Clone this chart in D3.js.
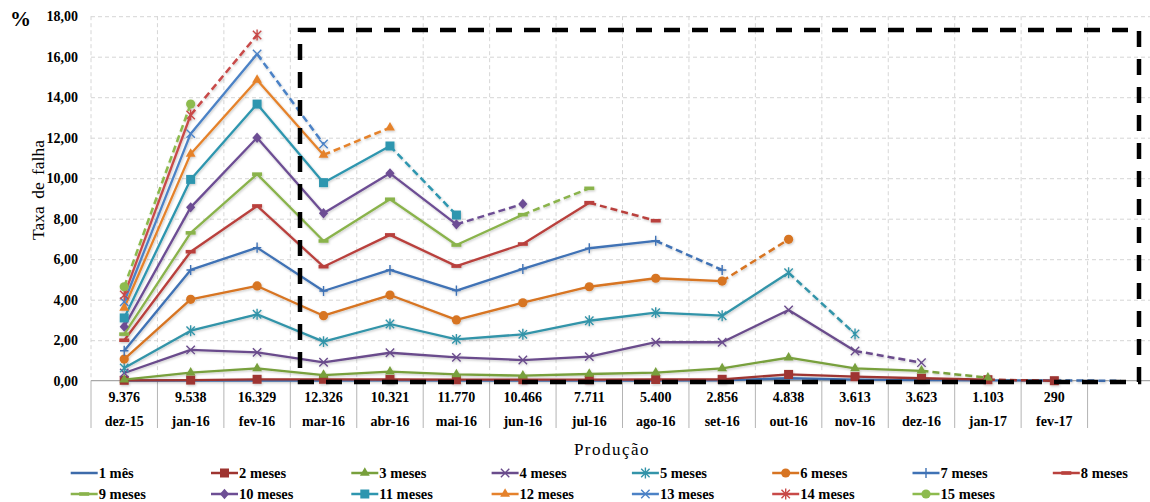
<!DOCTYPE html>
<html>
<head>
<meta charset="utf-8">
<script src="https://cdn.jsdelivr.net/npm/d3@7"></script>
<style>
  html, body { margin: 0; padding: 0; background: #fff; }
  svg { display: block; font-family: "Liberation Serif", "Times New Roman", serif; }
</style>
</head>
<body>
<svg id="chart" width="1150" height="502"></svg>
<script>
// Production months (last column is an empty placeholder)
const months = ["dez-15","jan-16","fev-16","mar-16","abr-16","mai-16","jun-16","jul-16",
                "ago-16","set-16","out-16","nov-16","dez-16","jan-17","fev-17",""];
// Units produced per month
const production = ["9.376","9.538","16.329","12.326","10.321","11.770","10.466","7.711",
                    "5.400","2.856","4.838","3.613","3.623","1.103","290",""];
// Y axis ticks (%)
const yTicks = [0, 2, 4, 6, 8, 10, 12, 14, 16, 18];

// Failure rate (%) by months in service, one array per curve
const m1  = [0.00,0.01,0.01,0.01,0.02,0.01,0.01,0.01,0.01,0.02,0.12,0.05,0.03,0.02,0.01,0.00];
const m2  = [0.02,0.03,0.07,0.07,0.06,0.05,0.05,0.05,0.06,0.07,0.31,0.20,0.12,0.05,0.00];
const m3  = [0.05,0.40,0.61,0.28,0.45,0.31,0.25,0.33,0.40,0.61,1.14,0.61,0.49,0.15];
const m4  = [0.38,1.52,1.40,0.91,1.38,1.15,1.02,1.19,1.90,1.90,3.49,1.47,0.89];
const m5  = [0.63,2.47,3.28,1.93,2.80,2.04,2.29,2.96,3.36,3.21,5.33,2.31];
const m6  = [1.07,4.02,4.68,3.21,4.23,3.00,3.85,4.64,5.06,4.92,6.98];
const m7  = [1.48,5.47,6.57,4.43,5.47,4.45,5.52,6.54,6.91,5.47];
const m8  = [2.00,6.37,8.63,5.63,7.20,5.66,6.75,8.79,7.90];
const m9  = [2.30,7.30,10.20,6.90,8.96,6.70,8.20,9.50];
const m10 = [2.67,8.56,12.00,8.27,10.24,7.72,8.73];
const m11 = [3.10,9.94,13.66,9.78,11.59,8.18];
const m12 = [3.60,11.20,14.85,11.15,12.50];
const m13 = [3.90,12.20,16.13,11.69];
const m14 = [4.23,13.12,17.07];
const m15 = [4.64,13.66];

const seriesNames = ["1 mês","2 meses","3 meses","4 meses","5 meses","6 meses","7 meses","8 meses",
                     "9 meses","10 meses","11 meses","12 meses","13 meses","14 meses","15 meses"];
const seriesValues = [m1,m2,m3,m4,m5,m6,m7,m8,m9,m10,m11,m12,m13,m14,m15];
const seriesColors = ["#3D6BAA","#9E3430","#78A03C","#6A4C8C","#3394A9","#D77422","#3F72B5","#B9413D",
                      "#8AB34C","#6D4E94","#2E96AF","#E5822C","#4C82C6","#C84A48","#8DBB4E"];
const seriesMarkers = ["none","square","triangle","x","asterisk","circle","plus","dash",
                       "dash","diamond","square","triangle","x","asterisk","circle"];

const series = seriesNames.map((name, i) => ({
  name, color: seriesColors[i], marker: seriesMarkers[i],
  values: seriesValues[i].map((v, j) => ({ i: j, v }))
}));

const svg = d3.select("#chart");
const plotLeft = 91, plotRight = 1154, plotTop = 16.2, plotBottom = 380.7;

const x = d3.scaleBand().domain(d3.range(months.length)).range([plotLeft, plotRight]).padding(0);
const bw = x.bandwidth();
const cx = i => x(i) + bw / 2;
const y = d3.scaleLinear().domain([0, 18]).range([plotBottom, plotTop]);

// Horizontal gridlines
svg.append("g")
  .attr("transform", `translate(${plotLeft},0)`)
  .call(d3.axisLeft(y).tickValues(yTicks.filter(t => t > 0)).tickSize(-(plotRight - plotLeft)).tickFormat(""))
  .call(g => g.select(".domain").remove())
  .call(g => g.selectAll("line").attr("stroke", "#d6d6d6").attr("stroke-dasharray", "4 3"));

// Vertical gridlines at category boundaries
svg.append("g").selectAll("line")
  .data(d3.range(months.length + 1))
  .join("line")
  .attr("x1", d => plotLeft + d * bw).attr("x2", d => plotLeft + d * bw)
  .attr("y1", plotTop).attr("y2", plotBottom)
  .attr("stroke", "#d6d6d6").attr("stroke-dasharray", "4 3");

// Y axis labels
svg.append("g")
  .attr("transform", `translate(${plotLeft},0)`)
  .call(d3.axisLeft(y).tickValues(yTicks).tickSize(0).tickPadding(13)
        .tickFormat(v => v.toFixed(2).replace(".", ",")))
  .call(g => g.select(".domain").remove())
  .call(g => g.selectAll("text")
    .attr("font-family", "Liberation Serif, serif")
    .attr("font-size", 14).attr("font-weight", "bold").attr("fill", "#000"));

// Category axis drawn as a data table
const table = svg.append("g");
table.append("line")
  .attr("x1", plotLeft).attr("x2", plotRight).attr("y1", plotBottom).attr("y2", plotBottom)
  .attr("stroke", "#a8a8a8").attr("stroke-width", 1.2);
table.selectAll("line.sep")
  .data(d3.range(months.length + 1))
  .join("line").attr("class", "sep")
  .attr("x1", d => plotLeft + d * bw).attr("x2", d => plotLeft + d * bw)
  .attr("y1", plotBottom).attr("y2", 428)
  .attr("stroke", "#b4b4b4").attr("stroke-width", 1);
table.selectAll("text.prod")
  .data(production)
  .join("text").attr("class", "prod")
  .attr("x", (d, i) => cx(i)).attr("y", 401.5)
  .attr("text-anchor", "middle").attr("font-size", 14).attr("font-weight", "bold")
  .text(d => d);
table.selectAll("text.month")
  .data(months)
  .join("text").attr("class", "month")
  .attr("x", (d, i) => cx(i)).attr("y", 426)
  .attr("text-anchor", "middle").attr("font-size", 14).attr("font-weight", "bold")
  .text(d => d);

// Axis titles
svg.append("text").attr("x", 612).attr("y", 455)
  .attr("text-anchor", "middle").attr("font-size", 17).attr("letter-spacing", 1.5)
  .text("Produção");
svg.append("text")
  .attr("transform", "translate(44,190) rotate(-90)")
  .attr("text-anchor", "middle").attr("font-size", 17.5).attr("word-spacing", 3)
  .text("Taxa de falha");
svg.append("text").attr("x", 10).attr("y", 26)
  .attr("font-size", 21).attr("font-weight", "bold").text("%");

// Soft shadow under the curves
const defs = svg.append("defs");
const f = defs.append("filter").attr("id", "shadow").attr("x", "-5%").attr("y", "-5%")
  .attr("width", "110%").attr("height", "110%");
f.append("feDropShadow").attr("dx", 0.8).attr("dy", 1.2).attr("stdDeviation", 0.8)
  .attr("flood-color", "#000").attr("flood-opacity", 0.22);

function markerPath(type, s) {
  switch (type) {
    case "x": return `M${-s},${-s}L${s},${s}M${-s},${s}L${s},${-s}`;
    case "asterisk": return `M${-s},${-s}L${s},${s}M${-s},${s}L${s},${-s}M0,${-s * 1.3}L0,${s * 1.3}`;
    case "plus": return `M0,${-s * 1.2}L0,${s * 1.2}M${-s},0L${s},0`;
    default: return "";
  }
}

function drawMarker(g, type, color, px, py) {
  if (type === "none") return;
  if (type === "square") {
    g.append("rect").attr("x", px - 4.5).attr("y", py - 4.5).attr("width", 9).attr("height", 9)
      .attr("fill", color);
  } else if (type === "circle") {
    g.append("circle").attr("cx", px).attr("cy", py).attr("r", 4.6).attr("fill", color);
  } else if (type === "triangle") {
    g.append("path").attr("transform", `translate(${px},${py})`)
      .attr("d", d3.symbol(d3.symbolTriangle, 42)()).attr("fill", color);
  } else if (type === "diamond") {
    g.append("path").attr("transform", `translate(${px},${py})`)
      .attr("d", "M0,-5.2L4.6,0L0,5.2L-4.6,0Z").attr("fill", color);
  } else if (type === "dash") {
    g.append("rect").attr("x", px - 5).attr("y", py - 1.8).attr("width", 10).attr("height", 3.6)
      .attr("fill", color);
  } else {
    g.append("path").attr("transform", `translate(${px},${py})`)
      .attr("d", markerPath(type, 4.2)).attr("fill", "none")
      .attr("stroke", color).attr("stroke-width", 1.4);
  }
}

const line = d3.line().x(d => cx(d.i)).y(d => y(d.v));
const plot = svg.append("g").attr("filter", "url(#shadow)");

series.forEach(s => {
  const g = plot.append("g");
  const n = s.values.length;
  // solid part: all but the last segment
  g.append("path").datum(s.values.slice(0, n - 1))
    .attr("d", line).attr("fill", "none").attr("stroke", s.color)
    .attr("stroke-width", 2.3).attr("stroke-linejoin", "round");
  // last segment dashed
  g.append("path").datum(s.values.slice(n - 2))
    .attr("d", line).attr("fill", "none").attr("stroke", s.color)
    .attr("stroke-width", 2.5).attr("stroke-dasharray", "7 4");
  s.values.forEach(d => drawMarker(g, s.marker, s.color, cx(d.i), y(d.v)));
});

// Highlight frame
svg.append("rect")
  .attr("x", 300).attr("y", 30).attr("width", 839).attr("height", 352)
  .attr("fill", "none").attr("stroke", "#000").attr("stroke-width", 4.5)
  .attr("stroke-dasharray", "16 12");

// Legend
const legend = svg.append("g");
series.forEach((s, i) => {
  const row = Math.floor(i / 8), col = i % 8;
  const lx = 70.7 + col * 140.3, ly = 473 + row * 21;
  const g = legend.append("g");
  g.append("line").attr("x1", lx).attr("x2", lx + 27).attr("y1", ly).attr("y2", ly)
    .attr("stroke", s.color).attr("stroke-width", 2.5);
  drawMarker(g, s.marker, s.color, lx + 13.5, ly);
  g.append("text").attr("x", lx + 28).attr("y", ly + 5)
    .attr("font-size", 14.5).attr("font-weight", "bold").text(s.name);
});
</script>
</body>
</html>
